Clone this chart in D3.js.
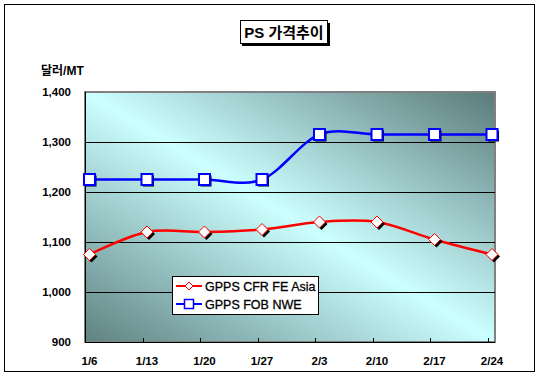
<!DOCTYPE html>
<html>
<head>
<meta charset="utf-8">
<script src="https://cdn.jsdelivr.net/npm/d3@7"></script>
<style>
  body { margin: 0; background: #fff; }
  text { font-family: Arial, "Liberation Sans", "Noto Sans CJK KR", sans-serif; font-weight: bold; fill: #000; }
</style>
</head>
<body>
<div id="chart"></div>
<script>
var dates = ["1/6", "1/13", "1/20", "1/27", "2/3", "2/10", "2/17", "2/24"];
var cfrAsia = [1075, 1120, 1120, 1125, 1140, 1140, 1105, 1075];
var fobNwe = [1225, 1225, 1225, 1225, 1315, 1315, 1315, 1315];
var yTicks = [900, 1000, 1100, 1200, 1300, 1400];
var seriesNames = ["GPPS CFR FE Asia", "GPPS FOB NWE"];

var width = 539, height = 380;
var plot = { left: 85, top: 92, right: 495, bottom: 342 };

var svg = d3.select("#chart").append("svg")
    .attr("width", width)
    .attr("height", height);

// outer frame
svg.append("rect")
    .attr("x", 4.5).attr("y", 4.5)
    .attr("width", 530).attr("height", 367)
    .attr("fill", "#fff").attr("stroke", "#000");

var x = d3.scaleLinear().domain([-0.078, 7.052]).range([plot.left, plot.right]);
var y = d3.scaleLinear().domain([900, 1400]).range([plot.bottom, plot.top]);

var defs = svg.append("defs");
var grad = defs.append("linearGradient")
    .attr("id", "bg")
    .attr("x1", 0).attr("y1", 1).attr("x2", 1).attr("y2", 0);
grad.append("stop").attr("offset", 0).attr("stop-color", "#5f8282");
grad.append("stop").attr("offset", 0.5).attr("stop-color", "#ccffff");
grad.append("stop").attr("offset", 1).attr("stop-color", "#5a7a7a");

// plot area
svg.append("rect")
    .attr("x", plot.left).attr("y", plot.top)
    .attr("width", plot.right - plot.left).attr("height", plot.bottom - plot.top)
    .attr("fill", "url(#bg)")
    .attr("stroke", "#808080").attr("stroke-width", 2);

// gridlines
svg.selectAll(".grid")
    .data(yTicks.slice(1, -1))
    .enter().append("line")
    .attr("x1", plot.left).attr("x2", plot.right)
    .attr("y1", function (d) { return y(d) + 0.5; })
    .attr("y2", function (d) { return y(d) + 0.5; })
    .attr("stroke", "#000");

// axes
svg.append("line")
    .attr("x1", plot.left + 0.5).attr("x2", plot.left + 0.5)
    .attr("y1", plot.top).attr("y2", plot.bottom + 1)
    .attr("stroke", "#000");
svg.append("line")
    .attr("x1", plot.left).attr("x2", plot.right)
    .attr("y1", plot.bottom + 0.5).attr("y2", plot.bottom + 0.5)
    .attr("stroke", "#000");

// x ticks (inside)
svg.selectAll(".xtick")
    .data(dates)
    .enter().append("line")
    .attr("x1", function (d, i) { return Math.round(x(i - 0.078)) + 0.5; })
    .attr("x2", function (d, i) { return Math.round(x(i - 0.078)) + 0.5; })
    .attr("y1", plot.bottom - 4).attr("y2", plot.bottom)
    .attr("stroke", "#000");

svg.selectAll(".xlabel")
    .data(dates)
    .enter().append("text")
    .attr("x", function (d, i) { return x(i); })
    .attr("y", 365)
    .attr("text-anchor", "middle")
    .style("font-size", "11.5px")
    .text(function (d) { return d; });

var fmt = d3.format(",");
svg.selectAll(".ylabel")
    .data(yTicks)
    .enter().append("text")
    .attr("x", 71)
    .attr("y", function (d) { return y(d) + 4; })
    .attr("text-anchor", "end")
    .style("font-size", "11.5px")
    .text(function (d) { return fmt(d); });

svg.append("text")
    .attr("x", 41).attr("y", 75)
    .style("font-size", "12px")
    .text("달러/MT");

// title box
svg.append("rect")
    .attr("x", 242).attr("y", 23).attr("width", 88).attr("height", 23)
    .attr("fill", "#000");
svg.append("rect")
    .attr("x", 240.5).attr("y", 20.5).attr("width", 87).attr("height", 23)
    .attr("fill", "#fff").attr("stroke", "#000");
svg.append("text")
    .attr("x", 284).attr("y", 37.5)
    .attr("text-anchor", "middle")
    .style("font-size", "15px")
    .text("PS 가격추이");

var line = d3.line()
    .x(function (d, i) { return x(i); })
    .y(function (d) { return y(d); })
    .curve(d3.curveCatmullRom.alpha(0));

svg.append("path").datum(fobNwe)
    .attr("d", line).attr("fill", "none")
    .attr("stroke", "#0000ff").attr("stroke-width", 2.5);
svg.append("path").datum(cfrAsia)
    .attr("d", line).attr("fill", "none")
    .attr("stroke", "#ff0000").attr("stroke-width", 2.5);

function diamond(g, cx, cy) {
  var p = function (dx, dy) { return [[dx, dy - 6], [dx + 6, dy], [dx, dy + 6], [dx - 6, dy]].join(" "); };
  g.append("polygon").attr("points", p(cx + 2, cy + 2)).attr("fill", "#000");
  g.append("polygon").attr("points", p(cx, cy)).attr("fill", "#fff").attr("stroke", "#ff0000").attr("stroke-width", 1);
}
function square(g, cx, cy) {
  g.append("rect").attr("x", cx - 4).attr("y", cy - 4).attr("width", 11).attr("height", 11).attr("fill", "#000");
  g.append("rect").attr("x", cx - 5.5).attr("y", cy - 5.5).attr("width", 11).attr("height", 11)
      .attr("fill", "#fff").attr("stroke", "#0000ff").attr("stroke-width", 2);
}

var marks = svg.append("g");
fobNwe.forEach(function (d, i) { square(marks, x(i), y(d)); });
cfrAsia.forEach(function (d, i) { diamond(marks, x(i), y(d)); });

// legend
var lg = svg.append("g");
lg.append("rect")
    .attr("x", 172.5).attr("y", 276.5).attr("width", 146).attr("height", 38)
    .attr("fill", "#fff").attr("stroke", "#000");
var colors = ["#ff0000", "#0000ff"];
seriesNames.forEach(function (name, i) {
  var cy = 286 + i * 18;
  lg.append("line").attr("x1", 176).attr("x2", 202).attr("y1", cy).attr("y2", cy)
      .attr("stroke", colors[i]).attr("stroke-width", 2);
  if (i === 0) {
    lg.append("polygon").attr("points", [[189, cy - 4], [193, cy], [189, cy + 4], [185, cy]].join(" "))
        .attr("fill", "#fff").attr("stroke", "#ff0000");
  } else {
    lg.append("rect").attr("x", 184.5).attr("y", cy - 4.5).attr("width", 9).attr("height", 9)
        .attr("fill", "#fff").attr("stroke", "#0000ff").attr("stroke-width", 1.5);
  }
  lg.append("text").attr("x", 205).attr("y", cy + 5)
      .style("font-size", "12.5px").style("font-weight", "normal")
      .attr("stroke", "#000").attr("stroke-width", 0.3)
      .text(name);
});
</script>
</body>
</html>
